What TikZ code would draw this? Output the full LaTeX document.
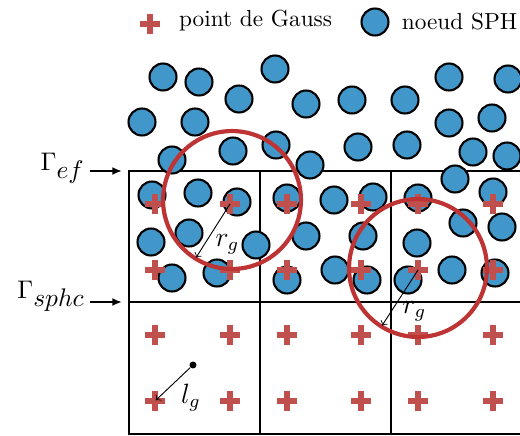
\documentclass[tikz,border=0pt]{standalone}
\usepackage{amsmath}
\usepackage{tikz}
\usetikzlibrary{shapes,arrows,arrows.meta,positioning,calc}
\definecolor{sphblue}{RGB}{65,150,202}
\definecolor{gaussred}{RGB}{192,80,77}
\definecolor{ringred}{RGB}{190,52,52}
\tikzstyle{sph} = [draw, fill=sphblue, circle, line width=0.9pt, minimum size=11.6pt, inner sep=0pt]
\tikzstyle{gauss} = [draw=gaussred, cross out, rotate=45, line width=2.7pt, minimum size=5.8pt, inner sep=0pt, outer sep=0pt]
\tikzstyle{ring} = [draw=ringred, circle, line width=1.8pt, minimum size=59.3pt, inner sep=0pt, outer sep=0pt]
\tikzstyle{grid} = [line width=1pt]
\tikzstyle{dist} = [-to, thin, shorten >=0.5pt]
\tikzstyle{bound} = [anchor=base east, inner sep=2pt, font=\fontsize{11pt}{13pt}\selectfont]

\begin{document}
\begin{tikzpicture}[x=0.43pt, y=-0.43pt, >={Latex[length=4.2pt,width=3.4pt]}]
    \useasboundingbox (0,0) rectangle (520,435);
    \clip (0,0) rectangle (520,435);
    % Legend
    \node [gauss] (lgauss) at (150,24) {};
    \node [right=9pt of lgauss.center, yshift=1.3pt] (lgausstext) {point de Gauss};
    \node [sph] (lsph) at (375,22) {};
    \node [right=1.8pt of lsph] (lsphtext) {noeud SPH};

    % Elements
    \draw [grid] (525,171) -- (129,171) -- (129,434) -- (525,434);
    \draw [grid] (129,302) -- (525,302) (260,171) -- (260,434) (391,171) -- (391,434);

    % SPH nodes
    \foreach \x/\y [count=\i] in {163/77, 199/82, 275/69, 239/99, 306/104, 352/100, 405/100,
        449/77, 508/79, 142/122, 195/122, 449/123, 492/118, 233/151, 276/145, 358/147,
        407/145, 473/152, 507/156, 172/160, 310/165, 455/179, 152/195, 198/193, 237/202,
        189/233, 151/242, 256/245, 172/278, 217/273, 287/198, 334/200, 373/197, 418/198,
        493/192, 306/236, 363/236, 417/243, 463/223, 502/227, 287/280, 335/270, 367/280,
        408/280, 452/270, 495/273}
        \node [sph] (s\i) at (\x,\y) {};

    % Gauss points
    \foreach \x [count=\i] in {155,230,287,361,418,493}
        \foreach \y [count=\j] in {204,270,335,401}
            \node [gauss] (g\i\j) at (\x,\y) {};

    % Support radius
    \node [ring] (c1) at (232,200) {};
    \node [ring] (c2) at (418,268) {};
    \draw [dist] (g21.center) -- node [below right, inner sep=1pt] {\large $r_g$} (c1.238);
    \draw [dist] (g52.center) -- node [below right, inner sep=1pt] {\large $r_g$} (c2.238);

    % Element size
    \node [circle, fill, inner sep=0pt, minimum size=3pt] (lc) at (193,365) {};
    \draw [dist] (lc) -- node [below right, inner sep=1pt, xshift=2.5pt, yshift=1.5pt] {\large $l_g$} (g14.center);

    % Boundaries
    \coordinate (ef) at (129,171);
    \coordinate (sphc) at (129,302);
    \node [bound] (gef) at (90,170) {$\Gamma_{\textstyle ef}$};
    \node [bound] (gsphc) at (90,298) {$\Gamma_{\textstyle sphc}$};
    \draw [->, line width=0.8pt, shorten >=3pt] (gef.east |- ef) -- (ef);
    \draw [->, line width=0.8pt, shorten >=3pt] (gsphc.east |- sphc) -- (sphc);
\end{tikzpicture}
\end{document}
